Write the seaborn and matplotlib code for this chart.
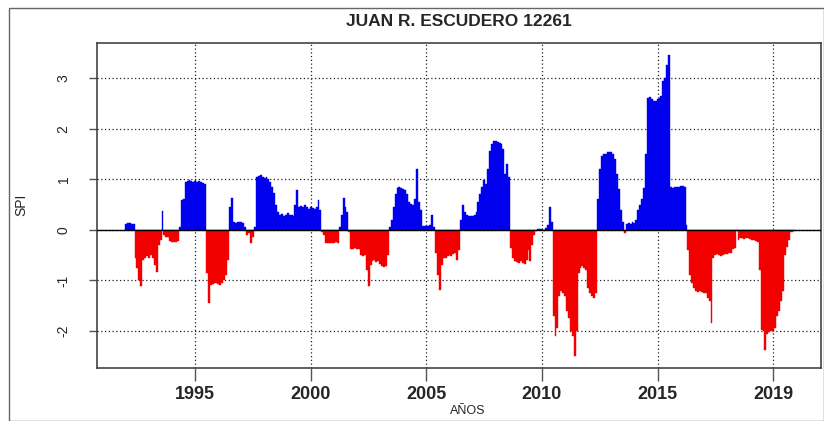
import numpy as np
import pandas as pd
import matplotlib
matplotlib.use("Agg")
import matplotlib.pyplot as plt
import seaborn as sns
from matplotlib.patches import Rectangle

# Monthly SPI values, station JUAN R. ESCUDERO 12261 (Jan..Dec of each year)
spi_1992 = [0.12, 0.13, 0.13, 0.12, 0.11, -0.55, -0.75, -1.00, -1.12, -0.60, -0.55, -0.52]
spi_1993 = [-0.55, -0.50, -0.55, -0.70, -0.83, -0.30, -0.20, 0.38, -0.10, -0.15, -0.14, -0.22]
spi_1994 = [-0.24, -0.25, -0.24, -0.22, 0.05, 0.58, 0.60, 0.95, 0.97, 0.98, 0.96, 0.95]
spi_1995 = [0.97, 0.95, 0.96, 0.95, 0.92, 0.90, -0.85, -1.45, -1.10, -1.08, -1.05, -1.05]
spi_1996 = [-1.07, -1.10, -1.05, -1.00, -0.90, -0.60, 0.45, 0.62, 0.15, 0.14, 0.16, 0.15]
spi_1997 = [0.15, 0.14, 0.05, -0.10, -0.06, -0.27, -0.15, 0.05, 1.05, 1.07, 1.08, 1.05]
spi_1998 = [1.03, 1.05, 1.00, 0.95, 0.85, 0.72, 0.50, 0.35, 0.30, 0.32, 0.28, 0.30]
spi_1999 = [0.33, 0.30, 0.30, 0.28, 0.50, 0.78, 0.45, 0.48, 0.45, 0.50, 0.45, 0.42]
spi_2000 = [0.45, 0.44, 0.42, 0.45, 0.58, 0.40, -0.05, -0.10, -0.26, -0.27, -0.26, -0.27]
spi_2001 = [-0.26, -0.25, -0.26, 0.05, 0.30, 0.62, 0.45, 0.35, -0.05, -0.37, -0.38, -0.36]
spi_2002 = [-0.37, -0.38, -0.50, -0.52, -0.50, -0.80, -1.12, -0.70, -0.62, -0.60, -0.63, -0.62]
spi_2003 = [-0.68, -0.72, -0.73, -0.72, -0.50, 0.05, 0.20, 0.45, 0.70, 0.82, 0.85, 0.82]
spi_2004 = [0.80, 0.78, 0.70, 0.55, 0.52, 0.50, 0.60, 1.20, 0.55, 0.40, 0.08, 0.08]
spi_2005 = [0.07, 0.08, 0.10, 0.29, 0.06, -0.45, -0.90, -1.18, -0.70, -0.55, -0.55, -0.52]
spi_2006 = [-0.50, -0.52, -0.48, -0.45, -0.60, -0.40, 0.20, 0.50, 0.35, 0.30, 0.28, 0.27]
spi_2007 = [0.28, 0.30, 0.35, 0.55, 0.70, 0.85, 0.98, 0.90, 1.20, 1.55, 1.70, 1.75]
spi_2008 = [1.75, 1.73, 1.72, 1.70, 1.60, 1.10, 1.30, 1.05, -0.35, -0.55, -0.62, -0.63]
spi_2009 = [-0.65, -0.62, -0.65, -0.68, -0.60, -0.40, -0.62, -0.30, -0.10, -0.02, 0.02, 0.01]
spi_2010 = [0.02, -0.02, 0.03, 0.10, 0.45, 0.15, -1.70, -2.10, -1.95, -1.30, -1.20, -1.25]
spi_2011 = [-1.30, -1.60, -1.75, -2.00, -2.10, -2.50, -2.00, -0.85, -0.75, -0.72, -0.75, -0.80]
spi_2012 = [-1.15, -1.25, -1.30, -1.35, -1.25, 0.60, 1.20, 1.45, 1.50, 1.50, 1.53, 1.54]
spi_2013 = [1.53, 1.50, 1.40, 1.10, 0.80, 0.40, 0.15, -0.07, 0.12, 0.13, 0.12, 0.15]
spi_2014 = [0.14, 0.20, 0.40, 0.50, 0.60, 0.82, 1.50, 2.60, 2.62, 2.58, 2.55, 2.55]
spi_2015 = [2.58, 2.60, 2.65, 2.95, 3.00, 3.25, 3.45, 0.85, 0.82, 0.85, 0.85, 0.84]
spi_2016 = [0.86, 0.87, 0.85, 0.10, -0.40, -0.90, -1.05, -1.15, -1.20, -1.22, -1.20, -1.22]
spi_2017 = [-1.25, -1.25, -1.35, -1.40, -1.85, -0.55, -0.50, -0.48, -0.50, -0.52, -0.50, -0.48]
spi_2018 = [-0.47, -0.45, -0.45, -0.37, -0.35, -0.02, -0.20, -0.17, -0.17, -0.18, -0.16, -0.17]
spi_2019 = [-0.18, -0.20, -0.20, -0.22, -0.25, -0.80, -1.98, -2.00, -2.37, -2.05, -2.02, -2.00]
spi_2020 = [-2.00, -1.95, -1.70, -1.60, -1.40, -1.20, -0.50, -0.34, -0.20, -0.05, -0.04, -0.03]

start_year = 1992
tick_years = [1995, 2000, 2005, 2010, 2015, 2020]
tick_labels = ["1995", "2000", "2005", "2010", "2015", "2019"]
y_ticks = [-2, -1, 0, 1, 2, 3]

spi = np.concatenate([
    spi_1992, spi_1993, spi_1994, spi_1995, spi_1996, spi_1997, spi_1998,
    spi_1999, spi_2000, spi_2001, spi_2002, spi_2003, spi_2004, spi_2005,
    spi_2006, spi_2007, spi_2008, spi_2009, spi_2010, spi_2011, spi_2012,
    spi_2013, spi_2014, spi_2015, spi_2016, spi_2017, spi_2018, spi_2019,
    spi_2020,
])
time = start_year + np.arange(len(spi)) / 12.0
df = pd.DataFrame({
    "tiempo": time,
    "spi": spi,
    "signo": np.where(spi >= 0, "humedo", "seco"),
})

sns.set_theme(style="white")
plt.rcParams["font.family"] = ["Liberation Sans", "DejaVu Sans"]

W, H = 824, 421
fig = plt.figure(figsize=(W / 100, H / 100), dpi=100)
ax_l, ax_r, ax_t, ax_b = 97, 821, 43.3, 368.3
ax = fig.add_axes([ax_l / W, 1 - ax_b / H, (ax_r - ax_l) / W, (ax_b - ax_t) / H])

sns.barplot(
    data=df, x="tiempo", y="spi", hue="signo",
    palette={"humedo": "#0000EE", "seco": "#F20000"}, saturation=1,
    native_scale=True, width=1.0, dodge=False, errorbar=None,
    legend=False, linewidth=0, ax=ax,
)
for p in ax.patches:
    p.set_edgecolor(p.get_facecolor())
    p.set_linewidth(0.3)

# dotted reference grid under the bars, solid zero line above them
ax.set_axisbelow(True)
ax.grid(True, color="#222222", linestyle=(0, (1, 2)), linewidth=0.9)
ax.axhline(0, color="black", linewidth=1.0, zorder=5)

ax.set_xlim(1990.75, 2022.07)
ax.set_ylim(-2.738, 3.688)

ax.set_xticks(tick_years)
ax.set_xticklabels(tick_labels, fontsize=13, fontweight="bold")
ax.set_yticks(y_ticks)
ax.set_yticklabels([str(v) for v in y_ticks], rotation=90, va="center", fontsize=10)
ax.tick_params(axis="x", bottom=True, length=9, width=1, color="#555555", pad=4)
ax.tick_params(axis="y", left=True, length=6, width=1, color="#555555", pad=13)
ax.set_xlabel("")
ax.set_ylabel("")

for s in ax.spines.values():
    s.set_visible(True)
    s.set_color("#444444")
    s.set_linewidth(1.2)

fig.text((ax_l + ax_r) / 2 / W, 1 - 22 / H, "JUAN R. ESCUDERO 12261",
         ha="center", va="center", fontsize=12.5, fontweight="bold")
fig.text(21 / W, 1 - 205 / H, "SPI", rotation=90, ha="center", va="center", fontsize=10)
fig.text((ax_l + ax_r) / 2 / W + 0.01, 1 - 411 / H, "AÑOS", ha="center", va="center", fontsize=9)

fig.add_artist(Rectangle((8.5 / W, 0.5 / H), (823.5 - 8.5) / W, (413.5 - 0.5) / H,
                         transform=fig.transFigure, fill=False,
                         edgecolor="#666666", linewidth=1.0))

fig.savefig("out.png", dpi=100)
